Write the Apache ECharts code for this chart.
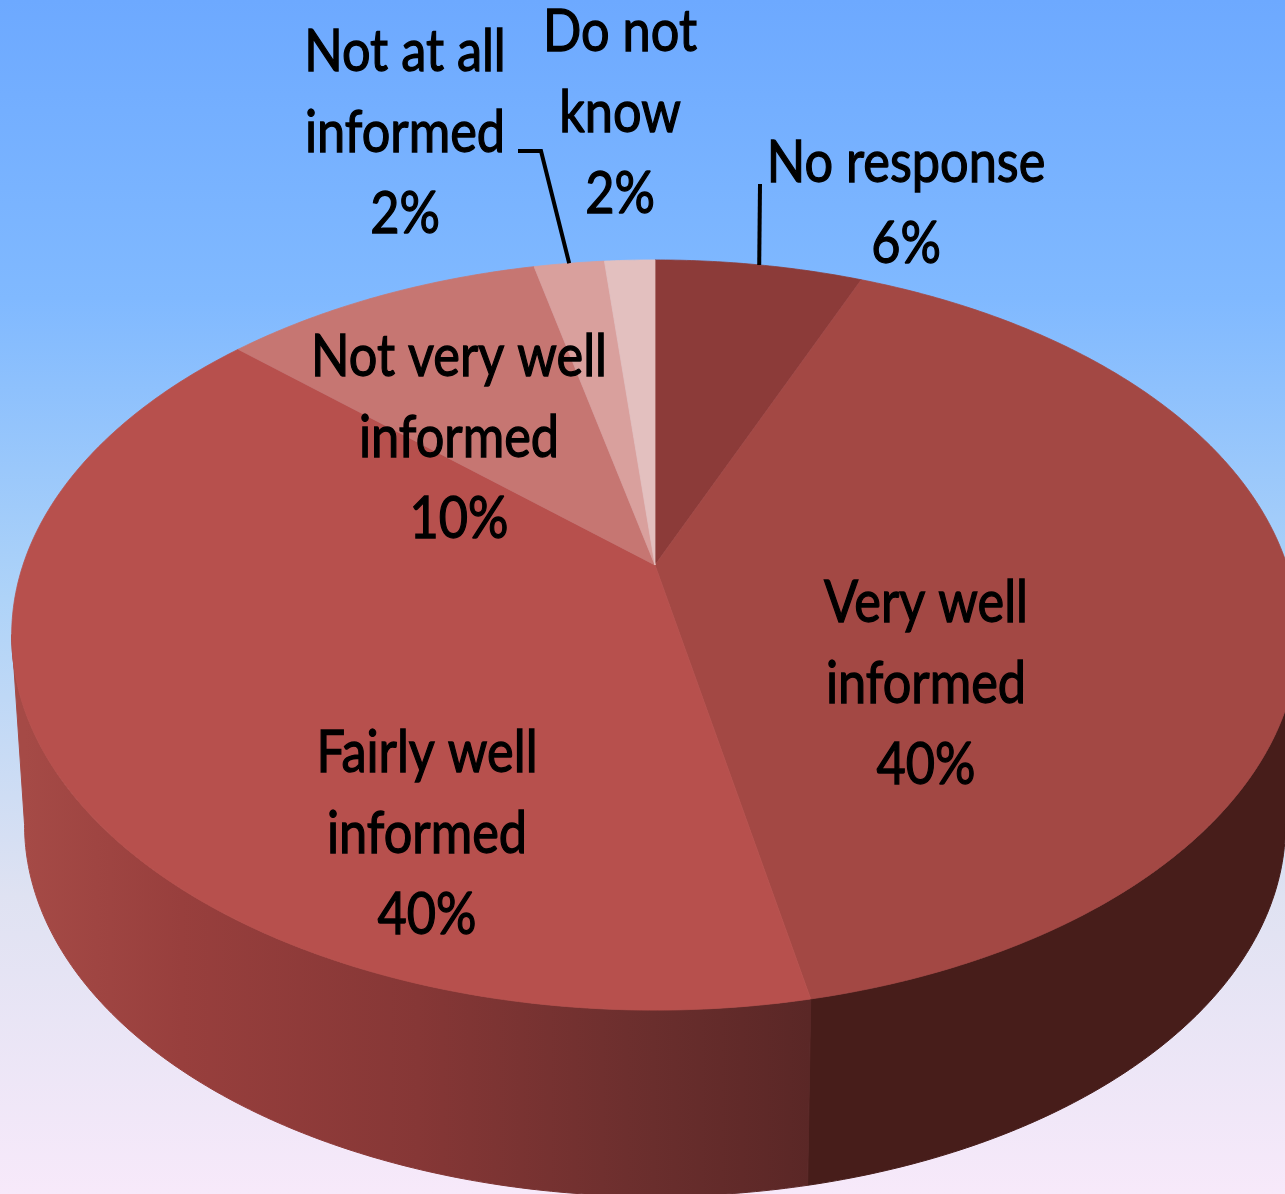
<!DOCTYPE html>
<html>
<head>
<meta charset="utf-8">
<style>
  html, body { margin: 0; padding: 0; background: #fff; }
  #main { width: 1285px; height: 1194px; }
</style>
</head>
<body>
<div id="main"></div>
<script src="https://cdn.jsdelivr.net/npm/echarts@6/dist/echarts.min.js"></script>
<script>
// values, the printed labels are these rounded
const categories = ['No response', 'Very well\ninformed', 'Fairly well\ninformed', 'Not very well\ninformed', 'Not at all\ninformed', 'Do not\nknow']
const sliceValues = [6.2, 40.2, 39.6, 9.6, 2.1, 1.5]
const faceColors = ['#8c3b39', '#a34844', '#b7504d', '#c67672', '#d9a09d', '#e3c0bf']

// layout of the tilted disc
const cx = 655
const apexY = 565
const sideX = 632
const sideY = 362
const tilt = -0.1867
const rimY = 635
const baseY = 825
const baseScaleX = 0.98
const baseScaleY = 0.99
const labelCenter = [[906, 204], [926, 684], [427, 834], [459, 438], [405, 133], [620, 113]]
const leaderStart = [[760, 184], null, null, null, [518, 151], null]
const leaderBend = [null, null, null, null, [541, 151], null]

const total = sliceValues.reduce((a, b) => a + b, 0)

function angleAt (pct) {
  return pct / total * Math.PI * 2
}
function rimPoint (t) {
  const u = Math.sin(t)
  const v = -Math.cos(t)
  const w = 1 + tilt * v
  return [cx + sideX * u / w, apexY + sideY * v / w]
}
function basePoint (t) {
  const p = rimPoint(t)
  return [cx + (p[0] - cx) * baseScaleX, baseY + (p[1] - rimY) * baseScaleY]
}
function arc (fn, t0, t1) {
  const pts = []
  const n = Math.max(2, Math.ceil(Math.abs(t1 - t0) / 0.01))
  for (let i = 0; i <= n; i++) pts.push(fn(t0 + (t1 - t0) * i / n))
  return pts
}
function startOf (i) {
  return sliceValues.slice(0, i).reduce((a, b) => a + b, 0)
}

// the side wall only shows between the two widest points of the rim
const frontFrom = 100.7 * Math.PI / 180
const frontTo = 259.3 * Math.PI / 180
const wallFills = {
  1: '#471d1a',
  2: {
    type: 'linear',
    x: 25,
    y: 0,
    x2: 810,
    y2: 0,
    global: true,
    colorStops: [
      { offset: 0, color: '#a54a46' },
      { offset: 0.2, color: '#983f3d' },
      { offset: 0.5, color: '#863736' },
      { offset: 0.8, color: '#6a2e2d' },
      { offset: 1, color: '#5a2726' }
    ]
  }
}

function renderSlice (params, api) {
  const i = params.dataIndex
  const start = startOf(i)
  const t0 = angleAt(start)
  const t1 = angleAt(start + api.value(1))
  const children = []
  const from = Math.max(t0, frontFrom)
  const to = Math.min(t1, frontTo)
  if (to > from) {
    const wall = wallFills[i] || faceColors[i]
    // same colour stroke closes the hairline between neighbours
    children.push({
      type: 'polygon',
      shape: { points: arc(rimPoint, from, to).concat(arc(basePoint, to, from)) },
      style: { fill: wall, stroke: wall, lineWidth: 1 }
    })
  }
  children.push({
    type: 'polygon',
    shape: { points: [[cx, apexY]].concat(arc(rimPoint, t0, t1)) },
    style: { fill: faceColors[i], stroke: faceColors[i], lineWidth: 0.8 }
  })
  return { type: 'group', children: children }
}

function renderLabel (params, api) {
  const i = params.dataIndex
  const value = api.value(1)
  const children = []
  if (leaderStart[i]) {
    const mid = angleAt(startOf(i) + value / 2)
    const end = rimPoint(mid)
    const pts = [leaderStart[i]]
    if (leaderBend[i]) pts.push(leaderBend[i])
    pts.push(end)
    children.push({
      type: 'polyline',
      shape: { points: pts },
      style: { stroke: '#000', lineWidth: 4, fill: null }
    })
  }
  children.push({
    type: 'text',
    x: labelCenter[i][0],
    y: labelCenter[i][1],
    scaleX: 0.87,
    style: {
      text: categories[i] + '\n' + Math.round(value) + '%',
      fill: '#000',
      stroke: '#000',
      lineWidth: 1.3,
      font: '58px Lato',
      lineHeight: 81,
      align: 'center',
      verticalAlign: 'middle'
    }
  })
  return { type: 'group', children: children }
}

const chart = echarts.init(document.getElementById('main'))
const rows = sliceValues.map((v, i) => [i, v])
chart.setOption({
  animation: false,
  backgroundColor: {
    type: 'linear',
    x: 0,
    y: 0,
    x2: 0,
    y2: 1,
    colorStops: [
      { offset: 0, color: '#6da9ff' },
      { offset: 0.25, color: '#80b9ff' },
      { offset: 0.5, color: '#aed3f8' },
      { offset: 0.75, color: '#dfe2f2' },
      { offset: 1, color: '#f7e9fa' }
    ]
  },
  series: [
    { type: 'custom', coordinateSystem: 'none', silent: true, z: 2, renderItem: renderSlice, data: rows },
    { type: 'custom', coordinateSystem: 'none', silent: true, z: 3, renderItem: renderLabel, data: rows }
  ]
})
</script>
</body>
</html>
